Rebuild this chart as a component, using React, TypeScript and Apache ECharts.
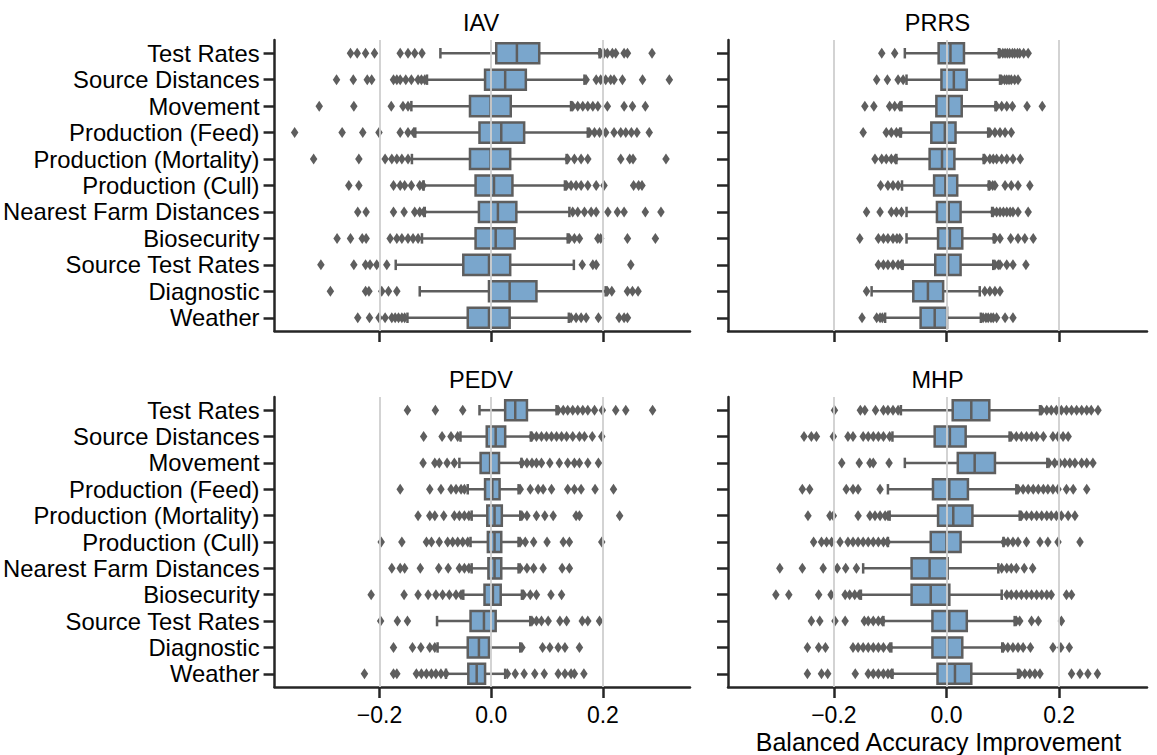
import React, { useEffect, useRef } from "react";
import * as echarts from "echarts";

const CATEGORIES = [
  "Test Rates",
  "Source Distances",
  "Movement",
  "Production (Feed)",
  "Production (Mortality)",
  "Production (Cull)",
  "Nearest Farm Distances",
  "Biosecurity",
  "Source Test Rates",
  "Diagnostic",
  "Weather",
];

const PANEL_TITLES = ["IAV", "PRRS", "PEDV", "MHP"];
const X_TICKS = [-0.2, 0, 0.2];
const X_LABEL = "Balanced Accuracy Improvement";

// [whisker low, Q1, median, Q3, whisker high]
const IAV_STATS = [
  [-0.091, 0.009, 0.046, 0.086, 0.194],
  [-0.115, -0.011, 0.025, 0.062, 0.167],
  [-0.143, -0.038, -0.001, 0.035, 0.143],
  [-0.136, -0.021, 0.018, 0.059, 0.173],
  [-0.142, -0.038, -0.001, 0.034, 0.135],
  [-0.121, -0.028, 0.005, 0.038, 0.132],
  [-0.119, -0.022, 0.012, 0.045, 0.14],
  [-0.124, -0.028, 0.008, 0.042, 0.137],
  [-0.171, -0.05, -0.004, 0.034, 0.148],
  [-0.128, -0.004, 0.033, 0.081, 0.205],
  [-0.15, -0.042, -0.004, 0.033, 0.139],
];
const IAV_OUTLIERS = [
  [-0.252, -0.24, -0.225, -0.209, -0.163, -0.149, -0.137, -0.124, 0.196, 0.202, 0.208, 0.217, 0.223, 0.238, 0.244, 0.288],
  [-0.277, -0.247, -0.222, -0.214, -0.175, -0.169, -0.163, -0.153, -0.143, -0.131, -0.125, -0.119, 0.17, 0.188, 0.196, 0.205, 0.214, 0.22, 0.235, 0.271, 0.319],
  [-0.308, -0.246, -0.179, -0.158, -0.149, 0.146, 0.155, 0.164, 0.173, 0.182, 0.191, 0.208, 0.238, 0.253, 0.276],
  [-0.352, -0.267, -0.23, -0.201, -0.163, -0.149, -0.139, 0.176, 0.185, 0.194, 0.205, 0.22, 0.232, 0.241, 0.251, 0.261, 0.283],
  [-0.318, -0.237, -0.19, -0.178, -0.169, -0.16, -0.149, 0.137, 0.149, 0.161, 0.173, 0.232, 0.248, 0.254, 0.313],
  [-0.255, -0.237, -0.175, -0.163, -0.155, -0.143, -0.128, -0.122, 0.135, 0.143, 0.152, 0.161, 0.173, 0.188, 0.202, 0.255, 0.264, 0.27],
  [-0.239, -0.224, -0.175, -0.156, -0.137, -0.128, -0.121, 0.146, 0.155, 0.167, 0.179, 0.188, 0.209, 0.226, 0.238, 0.276, 0.304],
  [-0.276, -0.252, -0.231, -0.224, -0.181, -0.169, -0.16, -0.149, -0.14, -0.131, 0.14, 0.149, 0.158, 0.191, 0.196, 0.244, 0.294],
  [-0.305, -0.246, -0.225, -0.217, -0.205, -0.187, 0.163, 0.182, 0.188, 0.25],
  [-0.288, -0.225, -0.219, -0.196, -0.184, -0.169, 0.208, 0.216, 0.244, 0.253, 0.263],
  [-0.239, -0.218, -0.201, -0.19, -0.178, -0.172, -0.166, -0.16, -0.155, 0.143, 0.152, 0.161, 0.17, 0.192, 0.229, 0.238, 0.244],
];

const PRRS_STATS = [
  [-0.074, -0.014, 0.007, 0.031, 0.093],
  [-0.071, -0.009, 0.013, 0.036, 0.095],
  [-0.08, -0.018, 0.003, 0.027, 0.087],
  [-0.081, -0.027, -0.003, 0.016, 0.074],
  [-0.089, -0.03, -0.008, 0.014, 0.066],
  [-0.079, -0.022, -0.002, 0.019, 0.075],
  [-0.071, -0.017, 0.004, 0.025, 0.081],
  [-0.071, -0.015, 0.006, 0.028, 0.084],
  [-0.078, -0.02, 0.003, 0.025, 0.083],
  [-0.133, -0.059, -0.033, -0.006, 0.059],
  [-0.109, -0.046, -0.021, 0.001, 0.061],
];
const PRRS_OUTLIERS = [
  [-0.115, -0.092, 0.095, 0.1, 0.104, 0.108, 0.112, 0.117, 0.121, 0.126, 0.13, 0.137, 0.145],
  [-0.124, -0.105, -0.086, -0.077, 0.098, 0.103, 0.107, 0.111, 0.115, 0.121, 0.127],
  [-0.145, -0.129, -0.101, -0.092, -0.083, 0.089, 0.098, 0.107, 0.117, 0.143, 0.17],
  [-0.148, -0.107, -0.098, -0.089, -0.083, 0.077, 0.086, 0.095, 0.104, 0.115],
  [-0.127, -0.115, -0.107, -0.098, -0.091, 0.068, 0.077, 0.083, 0.089, 0.098, 0.107, 0.118, 0.131],
  [-0.117, -0.104, -0.095, -0.086, 0.077, 0.082, 0.086, 0.104, 0.115, 0.127, 0.148],
  [-0.142, -0.118, -0.098, -0.089, -0.08, 0.083, 0.089, 0.095, 0.101, 0.107, 0.113, 0.118, 0.127, 0.145],
  [-0.154, -0.121, -0.112, -0.104, -0.095, -0.088, -0.083, 0.086, 0.095, 0.114, 0.127, 0.139, 0.154],
  [-0.121, -0.112, -0.104, -0.095, -0.086, -0.08, 0.086, 0.092, 0.095, 0.107, 0.118, 0.141],
  [-0.142, 0.068, 0.077, 0.086, 0.095],
  [-0.15, -0.124, -0.118, -0.114, 0.065, 0.07, 0.074, 0.079, 0.083, 0.089, 0.104, 0.118],
];

const PEDV_STATS = [
  [-0.021, 0.025, 0.043, 0.064, 0.117],
  [-0.055, -0.008, 0.008, 0.025, 0.071],
  [-0.057, -0.019, -0.002, 0.014, 0.054],
  [-0.042, -0.011, 0.002, 0.015, 0.049],
  [-0.035, -0.007, 0.006, 0.019, 0.052],
  [-0.037, -0.006, 0.006, 0.018, 0.049],
  [-0.035, -0.005, 0.006, 0.018, 0.049],
  [-0.05, -0.012, 0.003, 0.017, 0.055],
  [-0.097, -0.037, -0.013, 0.008, 0.07],
  [-0.096, -0.042, -0.022, -0.004, 0.052],
  [-0.081, -0.041, -0.026, -0.011, 0.025],
];
const PEDV_OUTLIERS = [
  [-0.15, -0.1, -0.051, 0.12, 0.129, 0.137, 0.146, 0.155, 0.164, 0.173, 0.185, 0.199, 0.223, 0.241, 0.289],
  [-0.121, -0.088, -0.072, -0.06, 0.073, 0.081, 0.09, 0.099, 0.108, 0.117, 0.126, 0.135, 0.146, 0.158, 0.167, 0.181, 0.198],
  [-0.122, -0.101, -0.093, -0.079, -0.066, 0.055, 0.064, 0.073, 0.081, 0.09, 0.105, 0.122, 0.137, 0.149, 0.158, 0.173, 0.192],
  [-0.163, -0.11, -0.09, -0.072, -0.063, -0.054, -0.048, 0.052, 0.07, 0.084, 0.093, 0.108, 0.137, 0.149, 0.161, 0.186, 0.219],
  [-0.131, -0.11, -0.101, -0.085, -0.066, -0.057, -0.048, -0.04, 0.055, 0.064, 0.081, 0.096, 0.111, 0.152, 0.158, 0.23],
  [-0.197, -0.16, -0.116, -0.107, -0.093, -0.078, -0.069, -0.06, -0.051, -0.042, 0.052, 0.061, 0.076, 0.1, 0.129, 0.14, 0.198],
  [-0.178, -0.163, -0.155, -0.127, -0.094, -0.077, -0.057, -0.048, -0.04, 0.052, 0.064, 0.076, 0.093, 0.127, 0.14],
  [-0.215, -0.156, -0.131, -0.113, -0.099, -0.087, -0.075, -0.063, -0.054, 0.058, 0.07, 0.081, 0.107, 0.126],
  [-0.198, -0.168, -0.15, 0.073, 0.081, 0.09, 0.102, 0.123, 0.135, 0.163, 0.173, 0.194],
  [-0.175, -0.141, -0.126, -0.11, -0.101, 0.055, 0.092, 0.105, 0.12, 0.132, 0.158],
  [-0.227, -0.175, -0.169, -0.134, -0.125, -0.116, -0.107, -0.099, -0.09, -0.081, 0.029, 0.043, 0.059, 0.078, 0.095, 0.12, 0.132, 0.143, 0.149, 0.166],
];

const MHP_STATS = [
  [-0.081, 0.011, 0.044, 0.076, 0.166],
  [-0.096, -0.021, 0.006, 0.034, 0.112],
  [-0.074, 0.02, 0.05, 0.086, 0.179],
  [-0.104, -0.024, 0.005, 0.038, 0.124],
  [-0.101, -0.015, 0.012, 0.046, 0.13],
  [-0.104, -0.028, 0.0, 0.025, 0.101],
  [-0.148, -0.062, -0.03, 0.002, 0.092],
  [-0.152, -0.062, -0.028, 0.005, 0.098],
  [-0.112, -0.025, 0.005, 0.036, 0.121],
  [-0.098, -0.025, 0.001, 0.028, 0.099],
  [-0.096, -0.016, 0.015, 0.044, 0.127],
];
const MHP_OUTLIERS = [
  [-0.199, -0.153, -0.145, -0.126, -0.112, -0.104, -0.095, -0.086, 0.169, 0.178, 0.186, 0.195, 0.204, 0.213, 0.222, 0.231, 0.24, 0.249, 0.257, 0.269],
  [-0.253, -0.24, -0.231, -0.201, -0.175, -0.166, -0.148, -0.139, -0.13, -0.121, -0.112, -0.101, 0.115, 0.124, 0.133, 0.142, 0.151, 0.16, 0.172, 0.189, 0.198, 0.207, 0.216],
  [-0.186, -0.155, -0.136, -0.13, -0.102, 0.182, 0.192, 0.201, 0.21, 0.219, 0.228, 0.24, 0.249, 0.26],
  [-0.256, -0.243, -0.178, -0.166, -0.157, -0.118, 0.127, 0.136, 0.145, 0.154, 0.163, 0.172, 0.18, 0.189, 0.198, 0.213, 0.225, 0.249],
  [-0.246, -0.207, -0.201, -0.157, -0.136, -0.127, -0.118, -0.109, -0.104, 0.133, 0.142, 0.151, 0.16, 0.169, 0.178, 0.186, 0.195, 0.204, 0.216, 0.228],
  [-0.236, -0.222, -0.213, -0.204, -0.189, -0.175, -0.166, -0.157, -0.148, -0.139, -0.13, -0.121, -0.112, -0.105, 0.102, 0.109, 0.118, 0.127, 0.142, 0.166, 0.18, 0.198, 0.237],
  [-0.296, -0.256, -0.219, -0.194, -0.179, -0.16, 0.098, 0.107, 0.115, 0.124, 0.138, 0.153],
  [-0.303, -0.28, -0.227, -0.205, -0.18, -0.172, -0.163, -0.155, 0.107, 0.115, 0.124, 0.133, 0.142, 0.151, 0.16, 0.169, 0.178, 0.186, 0.213, 0.222],
  [-0.24, -0.225, -0.198, -0.18, -0.146, -0.139, -0.13, -0.121, -0.114, 0.124, 0.13, 0.151, 0.163, 0.204],
  [-0.247, -0.227, -0.215, -0.166, -0.157, -0.148, -0.139, -0.13, -0.121, -0.112, -0.101, 0.101, 0.109, 0.118, 0.127, 0.136, 0.149, 0.189, 0.203, 0.218],
  [-0.247, -0.222, -0.211, -0.162, -0.139, -0.13, -0.121, -0.112, -0.104, -0.098, 0.13, 0.139, 0.148, 0.157, 0.166, 0.222, 0.237, 0.251, 0.268],
];

const PANEL_STATS = [IAV_STATS, PRRS_STATS, PEDV_STATS, MHP_STATS];
const PANEL_OUTLIERS = [IAV_OUTLIERS, PRRS_OUTLIERS, PEDV_OUTLIERS, MHP_OUTLIERS];

const FONT = "'Liberation Sans', Arial, Helvetica, sans-serif";
const BOX_FILL = "#7aa6cc";
const EDGE = "#5e5e5e";
const AXIS_COLOR = "#262626";
const GRID_COLOR = "#cfcfcf";
const X_MIN = -0.388;
const X_MAX = 0.356;

const GRIDS = [
  { left: 272, top: 40, width: 418, height: 291 },
  { left: 728, top: 40, width: 419, height: 291 },
  { left: 272, top: 397, width: 418, height: 290 },
  { left: 728, top: 397, width: 419, height: 290 },
];

function renderBox(params: any, api: any) {
  const cat = api.value(0);
  const low = api.coord([api.value(1), cat]);
  const q1 = api.coord([api.value(2), cat]);
  const med = api.coord([api.value(3), cat]);
  const q3 = api.coord([api.value(4), cat]);
  const high = api.coord([api.value(5), cat]);
  const band = api.size([0, 1])[1];
  const h = band * 0.76;
  const cap = h * 0.26;
  const cy = low[1];
  const ls = { stroke: EDGE, lineWidth: 2.5, fill: null };
  return {
    type: "group",
    children: [
      { type: "line", shape: { x1: low[0], y1: cy, x2: q1[0], y2: cy }, style: ls },
      { type: "line", shape: { x1: q3[0], y1: cy, x2: high[0], y2: cy }, style: ls },
      { type: "line", shape: { x1: low[0], y1: cy - cap, x2: low[0], y2: cy + cap }, style: ls },
      { type: "line", shape: { x1: high[0], y1: cy - cap, x2: high[0], y2: cy + cap }, style: ls },
      {
        type: "rect",
        shape: { x: q1[0], y: cy - h / 2, width: q3[0] - q1[0], height: h },
        style: { fill: BOX_FILL, stroke: EDGE, lineWidth: 2.5 },
      },
      { type: "line", shape: { x1: med[0], y1: cy - h / 2, x2: med[0], y2: cy + h / 2 }, style: ls },
    ],
  };
}

function fmtTick(v: number) {
  const s = Number(v).toFixed(1);
  return s.replace("-", "\u2212");
}

export default function App() {
  const ref = useRef<HTMLDivElement>(null);

  useEffect(() => {
    if (!ref.current) return;
    const chart = echarts.init(ref.current, null, { renderer: "svg" });

    const xAxes: any[] = [];
    const yAxes: any[] = [];
    const series: any[] = [];
    const graphics: any[] = [];

    GRIDS.forEach((g, i) => {
      const bottomRow = i >= 2;
      const leftCol = i % 2 === 0;
      xAxes.push({
        type: "value",
        gridIndex: i,
        position: "bottom",
        min: X_MIN,
        max: X_MAX,
        axisLine: { show: true, onZero: false, lineStyle: { color: AXIS_COLOR, width: 2.5 } },
        axisTick: {
          show: true,
          length: 11,
          customValues: X_TICKS,
          lineStyle: { color: AXIS_COLOR, width: 2.5 },
        },
        axisLabel: {
          show: bottomRow,
          customValues: X_TICKS,
          fontSize: 23,
          fontFamily: FONT,
          color: "#000",
          margin: 16,
          formatter: (v: number) => fmtTick(v),
        },
        splitLine: { show: false },
      });
      yAxes.push({
        type: "category",
        gridIndex: i,
        position: "left",
        data: CATEGORIES,
        inverse: true,
        boundaryGap: true,
        axisLine: { show: true, onZero: false, lineStyle: { color: AXIS_COLOR, width: 2.5 } },
        axisTick: { show: true, length: 11, alignWithLabel: true, lineStyle: { color: AXIS_COLOR, width: 2.5 } },
        axisLabel: {
          show: leftCol,
          fontSize: 23.8,
          fontFamily: FONT,
          color: "#000",
          margin: 15,
          interval: 0,
        },
        splitLine: { show: false },
      });

      // gridlines at tick positions
      series.push({
        type: "scatter",
        xAxisIndex: i,
        yAxisIndex: i,
        data: [],
        z: 0,
        silent: true,
        markLine: {
          silent: true,
          symbol: "none",
          label: { show: false },
          lineStyle: { color: GRID_COLOR, width: 1.8, type: "solid" },
          emphasis: { disabled: true },
          data: X_TICKS.map((t) => ({ xAxis: t })),
        },
      });

      const stats = PANEL_STATS[i];
      series.push({
        type: "custom",
        xAxisIndex: i,
        yAxisIndex: i,
        z: 3,
        silent: true,
        renderItem: renderBox,
        encode: { x: [1, 2, 3, 4, 5], y: 0 },
        data: stats.map((s, k) => [k, s[0], s[1], s[2], s[3], s[4]]),
      });

      const outs: number[][] = [];
      PANEL_OUTLIERS[i].forEach((arr, k) => arr.forEach((v) => outs.push([v, k])));
      series.push({
        type: "scatter",
        xAxisIndex: i,
        yAxisIndex: i,
        z: 4,
        silent: true,
        symbol: "diamond",
        symbolSize: [7.5, 11],
        itemStyle: { color: EDGE, opacity: 1 },
        data: outs,
      });

      graphics.push({
        type: "text",
        x: g.left + g.width / 2,
        y: i < 2 ? 23 : 379.5,
        style: {
          text: PANEL_TITLES[i],
          fontSize: 23.5,
          fontFamily: FONT,
          fill: "#000",
          align: "center",
          verticalAlign: "middle",
          textAlign: "center",
          textVerticalAlign: "middle",
        },
      });
    });

    graphics.push({
      type: "text",
      x: GRIDS[3].left + GRIDS[3].width / 2 + 1,
      y: 742,
      style: {
        text: X_LABEL,
        fontSize: 25,
        fontFamily: FONT,
        fill: "#000",
        align: "center",
        verticalAlign: "middle",
        textAlign: "center",
        textVerticalAlign: "middle",
      },
    });

    chart.setOption({
      animation: false,
      backgroundColor: "#ffffff",
      textStyle: { fontFamily: FONT },
      grid: GRIDS.map((g) => ({ ...g, containLabel: false })),
      xAxis: xAxes,
      yAxis: yAxes,
      series,
      graphic: graphics,
    });

    return () => chart.dispose();
  }, []);

  return (
    <div
      ref={ref}
      style={{ position: "fixed", left: 0, top: 0, width: 1157, height: 755, background: "#fff" }}
    />
  );
}
